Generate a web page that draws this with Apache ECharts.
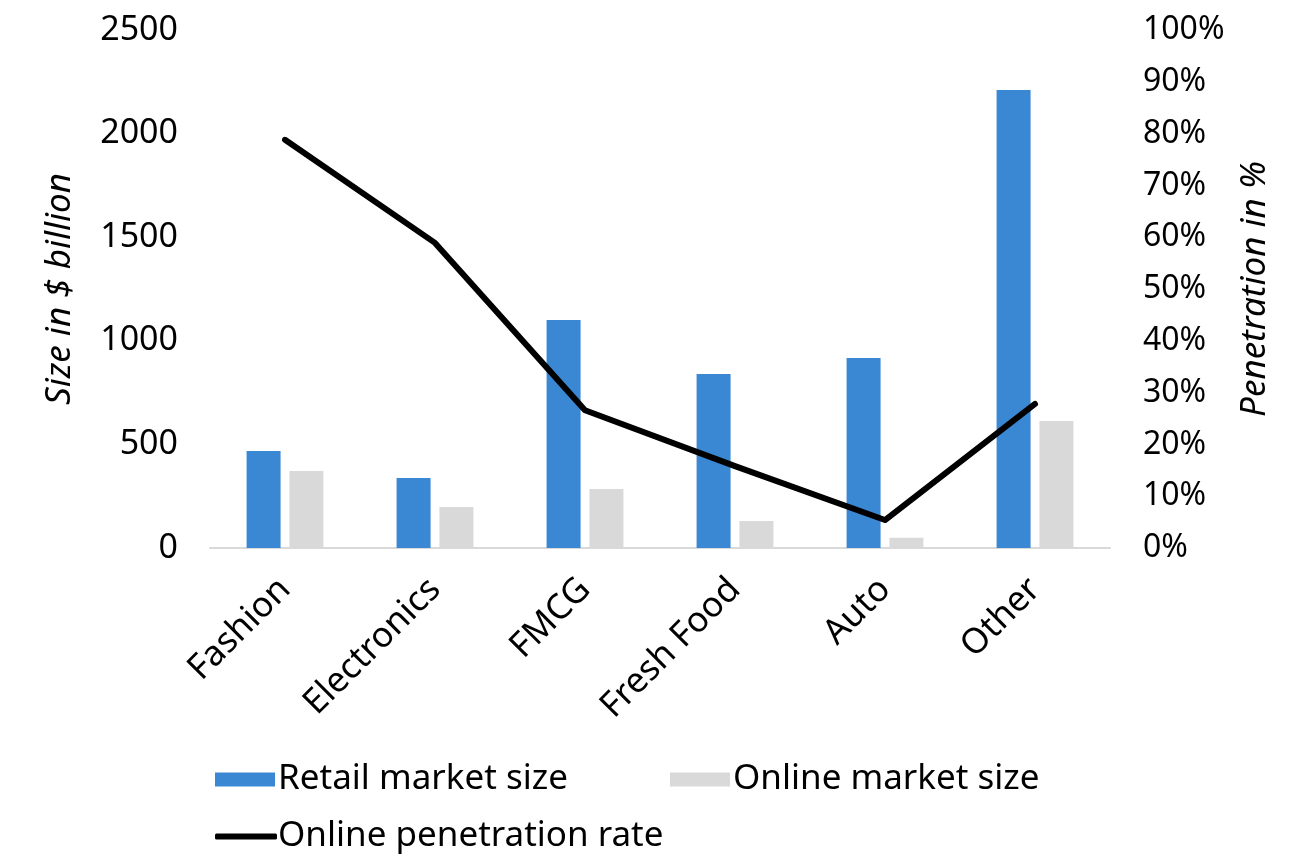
<!DOCTYPE html>
<html>
<head>
<meta charset="utf-8">
<script src="https://cdn.jsdelivr.net/npm/echarts@6/dist/echarts.min.js"></script>
<style>html,body{margin:0;padding:0;background:#fff;}#c{width:1292px;height:866px;}</style>
</head>
<body>
<div id="c"></div>
<script>
const categories = ['Fashion', 'Electronics', 'FMCG', 'Fresh Food', 'Auto', 'Other'];
const retailSize = [468, 338, 1100, 840, 917, 2210];
const onlineSize = [372, 198, 285, 130, 50, 613];
const penetration = [78.8, 58.9, 26.6, 15.8, 5.4, 27.8];

const FONT = 'Noto Sans';
const chart = echarts.init(document.getElementById('c'));
chart.setOption({
  animation: false,
  backgroundColor: '#fff',
  textStyle: { fontFamily: FONT },
  grid: { left: 210, right: 182, top: 30, bottom: 318, containLabel: false },
  legend: [
    { left: 210, top: 757, itemWidth: 60, itemHeight: 14, icon: 'rect', data: ['Retail market size'],
      textStyle: { fontSize: 35, color: '#000', padding: [0,0,0,-2] } },
    { left: 665, top: 757, itemWidth: 60, itemHeight: 14, icon: 'rect', data: ['Online market size'],
      textStyle: { fontSize: 35, color: '#000', padding: [0,0,0,-2] } },
    { left: 210, top: 814, itemWidth: 62, itemHeight: 6, icon: 'roundRect', data: ['Online penetration rate'],
      textStyle: { fontSize: 35, color: '#000', padding: [0,0,0,-4] } }
  ],
  xAxis: {
    type: 'category',
    data: categories,
    axisLine: { lineStyle: { color: '#D9D9D9', width: 2 } },
    axisTick: { show: false },
    axisLabel: { rotate: 45, fontSize: 35, color: '#000', margin: 36, interval: 0 }
  },
  yAxis: [
    {
      type: 'value', min: 0, max: 2500, interval: 500,
      name: 'Size in $ billion', nameLocation: 'middle', nameGap: 132, nameRotate: 90,
      nameTextStyle: { fontSize: 35, fontStyle: 'italic', color: '#000' },
      axisLine: { show: false }, axisTick: { show: false }, splitLine: { show: false },
      axisLabel: { fontSize: 34, color: '#000', margin: 32, formatter: function (v) { return String(v); } }
    },
    {
      type: 'value', min: 0, max: 100, interval: 10, position: 'right',
      name: 'Penetration in %', nameLocation: 'middle', nameGap: 128, nameRotate: 90,
      nameTextStyle: { fontSize: 35, fontStyle: 'italic', color: '#000' },
      axisLine: { show: false }, axisTick: { show: false }, splitLine: { show: false },
      axisLabel: { fontSize: 32, color: '#000', margin: 33, formatter: '{value}%' }
    }
  ],
  series: [
    { name: 'Retail market size', type: 'bar', data: retailSize, barWidth: 34, barGap: '26%',
      itemStyle: { color: '#3A87D4' } },
    { name: 'Online market size', type: 'bar', data: onlineSize, barWidth: 34,
      itemStyle: { color: '#D9D9D9' } },
    { name: 'Online penetration rate', type: 'line', yAxisIndex: 1, data: penetration,
      symbol: 'none', itemStyle: { color: '#000' },
      lineStyle: { color: '#000', width: 6, cap: 'round', join: 'round' } }
  ]
});
</script>
</body>
</html>
